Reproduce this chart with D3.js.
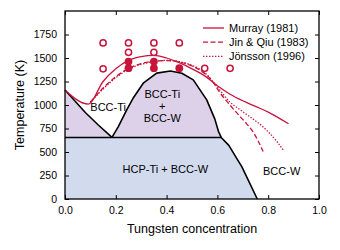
<!DOCTYPE html>
<html>
<head>
<meta charset="utf-8">
<script src="https://cdn.jsdelivr.net/npm/d3@7"></script>
<style>
  body { margin: 0; background: #fff; }
  text { font-family: "Liberation Sans", Arial, sans-serif; }
</style>
</head>
<body>
<div id="container"></div>
<script>
/* CONSTANTS AND GLOBALS */
const width = 340,
  height = 250,
  margin = {top: 11, bottom: 51, left: 65, right: 21};

const red = "#c8143c";

/* DATA */
const xTicks = [0, 0.2, 0.4, 0.6, 0.8, 1.0];
const yTicks = [0, 250, 500, 750, 1000, 1250, 1500, 1750];

// calculated liquidus-like curves
const murray = [[0,1160],[0.092,1010],[0.15,1250],[0.2,1385],[0.25,1475],[0.3,1515],[0.35,1528],[0.4,1500],
  [0.45,1450],[0.5,1385],[0.55,1310],[0.6,1205],[0.65,1115],[0.7,1045],[0.75,985],[0.8,925],[0.88,800]];
const jinQiu = [[0.1,1030],[0.15,1180],[0.2,1300],[0.25,1390],[0.3,1440],[0.35,1465],[0.4,1472],[0.45,1458],
  [0.5,1415],[0.55,1335],[0.58,1255],[0.61,1130],[0.64,1030],[0.68,905],[0.715,800],[0.735,735],[0.76,620],[0.78,505]];
const jonsson = [[0.1,1030],[0.15,1170],[0.2,1290],[0.25,1380],[0.3,1432],[0.35,1462],[0.4,1475],[0.45,1462],
  [0.5,1422],[0.55,1345],[0.6,1190],[0.65,1030],[0.69,948],[0.73,870],[0.77,790],[0.8,715],[0.83,625],[0.86,520]];

// phase boundaries
const eutectoidT = 655;
const leftBoundary = [[0,1160],[0.04,1040],[0.08,920],[0.13,790],[0.185,655]];
const dome = [[0.185,655],[0.21,770],[0.243,948],[0.27,1080],[0.308,1232],[0.361,1339],[0.415,1362],
  [0.46,1338],[0.505,1267],[0.558,1054],[0.59,850],[0.604,720],[0.615,655]];
const solvus = [[0.615,655],[0.645,570],[0.676,433],[0.696,344],[0.757,0]];

// simulation points
const openPts = [[0.15,1660],[0.15,1385],[0.25,1660],[0.25,1560],[0.35,1660],[0.35,1560],
  [0.45,1660],[0.55,1390],[0.65,1390]];
const filledPts = [[0.25,1462],[0.25,1392],[0.35,1462],[0.35,1392],[0.45,1392]];

const legendItems = [
  {label: "Murray (1981)", dash: null},
  {label: "Jin & Qiu (1983)", dash: "5,2.5"},
  {label: "J\u00f6nsson (1996)", dash: "1.4,1.6"}
];

const regionLabels = [
  {c: 0.17, t: 940, lines: ["BCC-Ti"]},
  {c: 0.383, t: 1075, lines: ["BCC-Ti", "+", "BCC-W"]},
  {c: 0.395, t: 280, lines: ["HCP-Ti + BCC-W"]},
  {c: 0.853, t: 255, lines: ["BCC-W"]}
];

// SCALES
const xScale = d3.scaleLinear()
  .domain([0, 1])
  .range([margin.left, width - margin.right]);

const yScale = d3.scaleLinear()
  .domain([0, 2000])
  .range([height - margin.bottom, margin.top]);

// CREATE SVG ELEMENT
const svg = d3.select("#container")
  .append("svg")
  .attr("width", width)
  .attr("height", height);

const lineGen = d3.line()
  .x(d => xScale(d[0]))
  .y(d => yScale(d[1]));

// FILLS
svg.append("path")
  .attr("fill", "#d2dbee")
  .attr("d", lineGen([[0,0],[0,eutectoidT], ...solvus, [0,0]]));

svg.append("path")
  .attr("fill", "#ddd1ea")
  .attr("d", lineGen([...leftBoundary, [0,eutectoidT]]) + "Z");

svg.append("path")
  .attr("fill", "#ddd1ea")
  .attr("d", lineGen(dome) + "Z");

// BLACK BOUNDARIES
svg.selectAll("path.bound")
  .data([leftBoundary, [...dome, ...solvus.slice(1)], [[0,eutectoidT],[0.615,eutectoidT]]])
  .join("path")
  .attr("class", "bound")
  .attr("fill", "none")
  .attr("stroke", "#000")
  .attr("stroke-width", 1.6)
  .attr("stroke-linejoin", "round")
  .attr("d", d => lineGen(d));

// RED CURVES
const curveLine = d3.line()
  .curve(d3.curveMonotoneX)
  .x(d => xScale(d[0]))
  .y(d => yScale(d[1]));

svg.selectAll("path.curve")
  .data([{pts: murray, dash: null}, {pts: jinQiu, dash: "5,2.5"}, {pts: jonsson, dash: "1.4,1.6"}])
  .join("path")
  .attr("class", "curve")
  .attr("fill", "none")
  .attr("stroke", red)
  .attr("stroke-width", 1.3)
  .attr("stroke-dasharray", d => d.dash)
  .attr("d", d => curveLine(d.pts));

// MARKERS
svg.selectAll("circle.open")
  .data(openPts)
  .join("circle")
  .attr("class", "open")
  .attr("cx", d => xScale(d[0]))
  .attr("cy", d => yScale(d[1]))
  .attr("r", 3.1)
  .attr("fill", "#fff")
  .attr("stroke", red)
  .attr("stroke-width", 1.5);

svg.selectAll("circle.filled")
  .data(filledPts)
  .join("circle")
  .attr("class", "filled")
  .attr("cx", d => xScale(d[0]))
  .attr("cy", d => yScale(d[1]))
  .attr("r", 3.9)
  .attr("fill", red);

// REGION LABELS
regionLabels.forEach(l => {
  const t = svg.append("text")
    .attr("x", xScale(l.c))
    .attr("y", yScale(l.t))
    .attr("text-anchor", "middle")
    .attr("font-size", "11px")
    .attr("fill", "#000");
  l.lines.forEach((s, i) => {
    t.append("tspan")
      .attr("x", xScale(l.c))
      .attr("dy", i === 0 ? 0 : 11.8)
      .text(s);
  });
});

// AXES (ticks inward on all sides)
const axisFont = "10.5px";
svg.append("g")
  .attr("transform", `translate(0, ${height - margin.bottom})`)
  .call(d3.axisBottom(xScale).tickValues(xTicks).tickFormat(d3.format(".1f"))
    .tickSizeInner(-4).tickSizeOuter(0).tickPadding(8))
  .call(g => g.select(".domain").remove())
  .selectAll("text").style("font-size", axisFont);

svg.append("g")
  .attr("transform", `translate(0, ${margin.top})`)
  .call(d3.axisTop(xScale).tickValues(xTicks).tickFormat("")
    .tickSizeInner(-4).tickSizeOuter(0))
  .call(g => g.select(".domain").remove());

svg.append("g")
  .attr("transform", `translate(${margin.left}, 0)`)
  .call(d3.axisLeft(yScale).tickValues(yTicks).tickFormat(d3.format("d"))
    .tickSizeInner(-4).tickSizeOuter(0).tickPadding(8))
  .call(g => g.select(".domain").remove())
  .selectAll("text").style("font-size", axisFont);

svg.append("g")
  .attr("transform", `translate(${width - margin.right}, 0)`)
  .call(d3.axisRight(yScale).tickValues(yTicks).tickFormat("")
    .tickSizeInner(-4).tickSizeOuter(0))
  .call(g => g.select(".domain").remove());

svg.selectAll(".tick line").attr("stroke-width", 1);

// FRAME
svg.append("rect")
  .attr("x", margin.left)
  .attr("y", margin.top)
  .attr("width", width - margin.left - margin.right)
  .attr("height", height - margin.top - margin.bottom)
  .attr("fill", "none")
  .attr("stroke", "#000")
  .attr("stroke-width", 1.3);

// AXIS TITLES
svg.append("text")
  .attr("x", (margin.left + width - margin.right) / 2)
  .attr("y", 233)
  .attr("text-anchor", "middle")
  .attr("font-size", "12.5px")
  .text("Tungsten concentration");

svg.append("text")
  .attr("transform", `translate(24, ${(margin.top + height - margin.bottom) / 2}) rotate(-90)`)
  .attr("text-anchor", "middle")
  .attr("font-size", "12.5px")
  .text("Temperature (K)");

// LEGEND
const legend = svg.append("g")
  .attr("transform", "translate(203, 28)");

const rows = legend.selectAll("g")
  .data(legendItems)
  .join("g")
  .attr("transform", (d, i) => `translate(0, ${i * 14.2})`);

rows.append("line")
  .attr("x1", 0).attr("x2", 21)
  .attr("stroke", red)
  .attr("stroke-width", 1.3)
  .attr("stroke-dasharray", d => d.dash);

rows.append("text")
  .attr("x", 26)
  .attr("dy", "0.35em")
  .attr("font-size", "11px")
  .text(d => d.label);
</script>
</body>
</html>
